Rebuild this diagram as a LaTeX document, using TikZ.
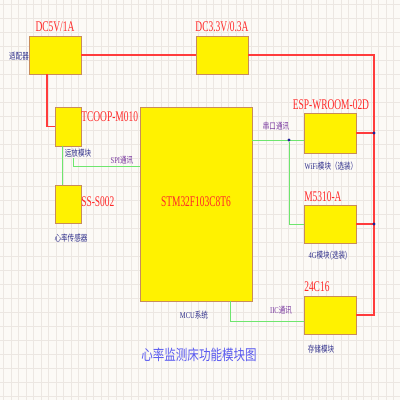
\documentclass[tikz,border=0pt]{standalone}
\usepackage{fontspec}
\setmainfont{Liberation Serif}
\newfontfamily\cjk{Noto Sans CJK SC}
\usetikzlibrary{calc}
\definecolor{bgc}{RGB}{252,250,246}
\definecolor{gridc}{RGB}{236,231,226}
\definecolor{boxfill}{RGB}{255,242,0}
\definecolor{boxline}{RGB}{200,140,90}
\definecolor{redl}{RGB}{255,60,60}
\definecolor{greenl}{RGB}{110,230,110}
\definecolor{labred}{RGB}{255,40,40}
\definecolor{navy}{RGB}{48,48,140}
\definecolor{purp}{RGB}{122,58,160}
\definecolor{titlec}{RGB}{90,90,240}
\definecolor{dotc}{RGB}{30,30,150}
\newcommand{\rlab}[1]{\scalebox{0.64}[1]{\fontsize{10.5}{11}\selectfont #1}}
\newcommand{\slab}[1]{\scalebox{0.74}[1]{\fontsize{6.3}{7}\selectfont #1}}
\begin{document}
\begin{tikzpicture}[x=0.025cm,y=-0.025cm,
  box/.style={draw=boxline,fill=boxfill,line width=0.5pt,inner sep=0pt},
  redw/.style={draw=redl,line width=0.85pt},
  greenw/.style={draw=greenl,line width=0.6pt},
  rtxt/.style={text=labred,inner sep=0pt},
  ntxt/.style={text=navy,inner sep=0pt},
  ptxt/.style={text=purp,inner sep=0pt},
  jdot/.style={fill=dotc,circle,inner sep=0pt,minimum size=2.2pt}]
\useasboundingbox (0,0) rectangle (400,400);
\fill[bgc] (0,0) rectangle (400,400);
\foreach \i in {0,...,53} {\draw[gridc,line width=0.35pt] (3.3+7.5*\i,0) -- (3.3+7.5*\i,400);}
\foreach \j in {0,...,28} {\draw[gridc,line width=0.35pt] (0,4+14*\j) -- (400,4+14*\j);}
% boxes
\node[box,minimum width=1.3cm,minimum height=0.95cm] (dc5) at (55,55) {};
\node[box,minimum width=1.3cm,minimum height=0.95cm] (dc33) at (222,55) {};
\node[box,minimum width=0.65cm,minimum height=0.975cm] (tc) at (68,126.5) {};
\node[box,minimum width=0.65cm,minimum height=0.95cm] (ss) at (68,204) {};
\node[box,minimum width=2.8cm,minimum height=4.85cm] (stm) at (196,204) {};
\node[box,minimum width=1.3cm,minimum height=1.0cm] (esp) at (330,133) {};
\node[box,minimum width=1.3cm,minimum height=0.95cm] (m53) at (330,224) {};
\node[box,minimum width=1.3cm,minimum height=0.95cm] (eep) at (330,315) {};
% coordinates
\coordinate (rb1) at (374,55);
\coordinate (rb2) at (374,315);
\coordinate (c5a) at (47,74);
\coordinate (c5b) at (47,126.5);
\coordinate (g1a) at (62,146);
\coordinate (g1b) at (62,185);
\coordinate (g2a) at (73,158);
\coordinate (g2b) at (73,166);
\coordinate (g2c) at (140,166);
\coordinate (g3a) at (252,140);
\coordinate (g3b) at (304,140);
\coordinate (g3c) at (289,224);
\coordinate (g4a) at (230,301);
\coordinate (g4b) at (230,321);
\coordinate (g4c) at (304,321);
% red power lines
\draw[redw] (dc5.east) -- (dc33.west);
\draw[redw] (dc33.east) -- (rb1) -- (rb2) -- (eep.east);
\draw[redw] (esp.east) -- (esp.east -| rb1);
\draw[redw] (m53.east) -- (m53.east -| rb1);
\draw[redw] (c5a) -- (c5b) -- (tc.west);
% green signal lines
\draw[greenw] (g1a) -- (g1b);
\draw[greenw] (g2a) -- (g2b) -- (g2c);
\draw[greenw] (g3a) -- (g3b);
\node[jdot] (d1) at (289,140) {};
\draw[greenw] (d1) -- (g3c) -- (m53.west);
\draw[greenw] (g4a) -- (g4b) -- (g4c);
\node[jdot] (d2) at (esp.east -| rb1) {};
\node[jdot] (d3) at (m53.east -| rb1) {};
% labels
\node[rtxt] (l1) at (55,27) {\rlab{DC5V/1A}};
\node[rtxt] (l2) at (222,27) {\rlab{DC3.3V/0.3A}};
\node[rtxt,anchor=west] (l3) at (81,117) {\rlab{TCOOP-M010}};
\node[rtxt,anchor=west] (l4) at (81,202) {\rlab{SS-S002}};
\node[rtxt] (l5) at (196,202) {\rlab{STM32F103C8T6}};
\node[rtxt] (l6) at (331,105) {\rlab{ESP-WROOM-02D}};
\node[rtxt,anchor=west] (l7) at (304,197) {\rlab{M5310-A}};
\node[rtxt,anchor=west] (l8) at (304,287) {\rlab{24C16}};
\node[ntxt] (n1) at (19,56) {\slab{\cjk 适配器}};
\node[ntxt] (n2) at (78,153) {\slab{\cjk 运放模块}};
\node[ntxt] (n3) at (71,238) {\slab{\cjk 心率传感器}};
\node[ntxt] (n4) at (194,315) {\slab{MCU\cjk 系统}};
\node[ntxt] (n5) at (331,166) {\slab{WiFi\cjk 模块（选装）}};
\node[ntxt] (n6) at (328,256) {\slab{4G\cjk 模块(选装)}};
\node[ntxt] (n7) at (321,349) {\slab{\cjk 存储模块}};
\node[ptxt] (p1) at (122,160) {\slab{SPI\cjk 通讯}};
\node[ptxt] (p2) at (276,126) {\slab{\cjk 串口通讯}};
\node[ptxt] (p3) at (281,310) {\slab{IIC\cjk 通讯}};
\node[text=titlec,inner sep=0pt] (t) at (199,355) {\scalebox{0.78}[1]{\fontsize{10.5}{12}\selectfont\cjk 心率监测床功能模块图}};
\end{tikzpicture}
\end{document}
